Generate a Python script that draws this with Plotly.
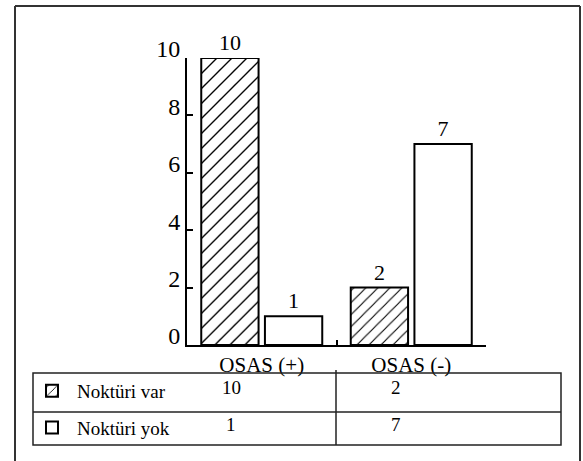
import plotly.graph_objects as go

categories = ["OSAS (+)", "OSAS (-)"]
series_names = ["Noktüri var", "Noktüri yok"]
nokturi_var = [10, 2]
nokturi_yok = [1, 7]
y_ticks = [0, 2, 4, 6, 8, 10]

W, H = 583, 461
ML, MR, MT, MB = 187, 97, 58, 116
PW = W - ML - MR
PH = H - MT - MB


def xp(px):
    return (px - ML) / PW


def yp(py):
    return (H - MB - py) / PH


FONT = "Liberation Serif"

fig = go.Figure()
fig.add_bar(
    name=series_names[0], x=categories, y=nokturi_var,
    text=nokturi_var, textposition="outside", cliponaxis=False,
    textfont=dict(size=22, color="black", family=FONT),
    legendgroup="a",
    marker=dict(color="white", line=dict(color="black", width=2),
                pattern=dict(shape="/", fgcolor="black", bgcolor="white", fgopacity=1,
                             size=[10.6, 8.5], solidity=0.13)),
)
fig.add_bar(
    name=series_names[1], x=categories, y=nokturi_yok,
    text=nokturi_yok, textposition="outside", cliponaxis=False,
    textfont=dict(size=22, color="black", family=FONT),
    legendgroup="b",
    marker=dict(color="white", line=dict(color="black", width=2)),
)

# table values
col_x = [231, 396]
row_y = [388, 424]
for r, vals in enumerate([nokturi_var, nokturi_yok]):
    for c, v in enumerate(vals):
        fig.add_annotation(x=xp(col_x[c]), y=yp(row_y[r]), xref="paper", yref="paper",
                           text=str(v), showarrow=False, xanchor="center", yanchor="middle",
                           font=dict(size=19, color="black", family=FONT))

shapes = []
frame = dict(color="#333", width=2)
shapes.append(dict(type="line", xref="paper", yref="paper", x0=xp(15), y0=yp(6), x1=xp(15), y1=yp(470), line=frame))
shapes.append(dict(type="line", xref="paper", yref="paper", x0=xp(15), y0=yp(6), x1=xp(580), y1=yp(6), line=frame))
shapes.append(dict(type="line", xref="paper", yref="paper", x0=xp(580), y0=yp(6), x1=xp(580), y1=yp(470), line=frame))
tl = dict(color="#222", width=1.5)
shapes.append(dict(type="rect", xref="paper", yref="paper", x0=xp(33), y0=yp(373), x1=xp(561), y1=yp(445), line=tl))
shapes.append(dict(type="line", xref="paper", yref="paper", x0=xp(33), y0=yp(412), x1=xp(561), y1=yp(412), line=tl))
shapes.append(dict(type="line", xref="paper", yref="paper", x0=xp(336), y0=yp(370), x1=xp(336), y1=yp(445), line=tl))

fig.update_layout(
    width=W, height=H,
    margin=dict(l=ML, r=MR, t=MT, b=MB, pad=0, autoexpand=False),
    paper_bgcolor="white", plot_bgcolor="white",
    font=dict(family=FONT, color="black"),
    barmode="group", bargap=0.148, bargroupgap=0.1,
    showlegend=True,
    legend=dict(x=27 / W, y=1 - 372 / H, xref="container", yref="container",
                xanchor="left", yanchor="top", itemwidth=40,
                font=dict(size=19, family=FONT), bgcolor="rgba(0,0,0,0)", borderwidth=0,
                tracegroupgap=9, orientation="v"),
    shapes=shapes,
)
fig.update_yaxes(range=[0, 10], tickvals=y_ticks, ticks="inside", ticklen=6, tickwidth=2,
                 tickcolor="black", showline=True, linecolor="black", linewidth=2,
                 showgrid=False, zeroline=False, tickfont=dict(size=24, family=FONT),
                 ticklabelshift=-9)
fig.update_xaxes(ticks="inside", tickson="boundaries", ticklen=5, tickwidth=2, tickcolor="black",
                 showline=True, linecolor="black", linewidth=2, showgrid=False,
                 tickfont=dict(size=21, family=FONT))

fig.write_html("out.html", config={"displayModeBar": False},
               post_script="document.body.style.margin='0';document.body.style.padding='0';")
